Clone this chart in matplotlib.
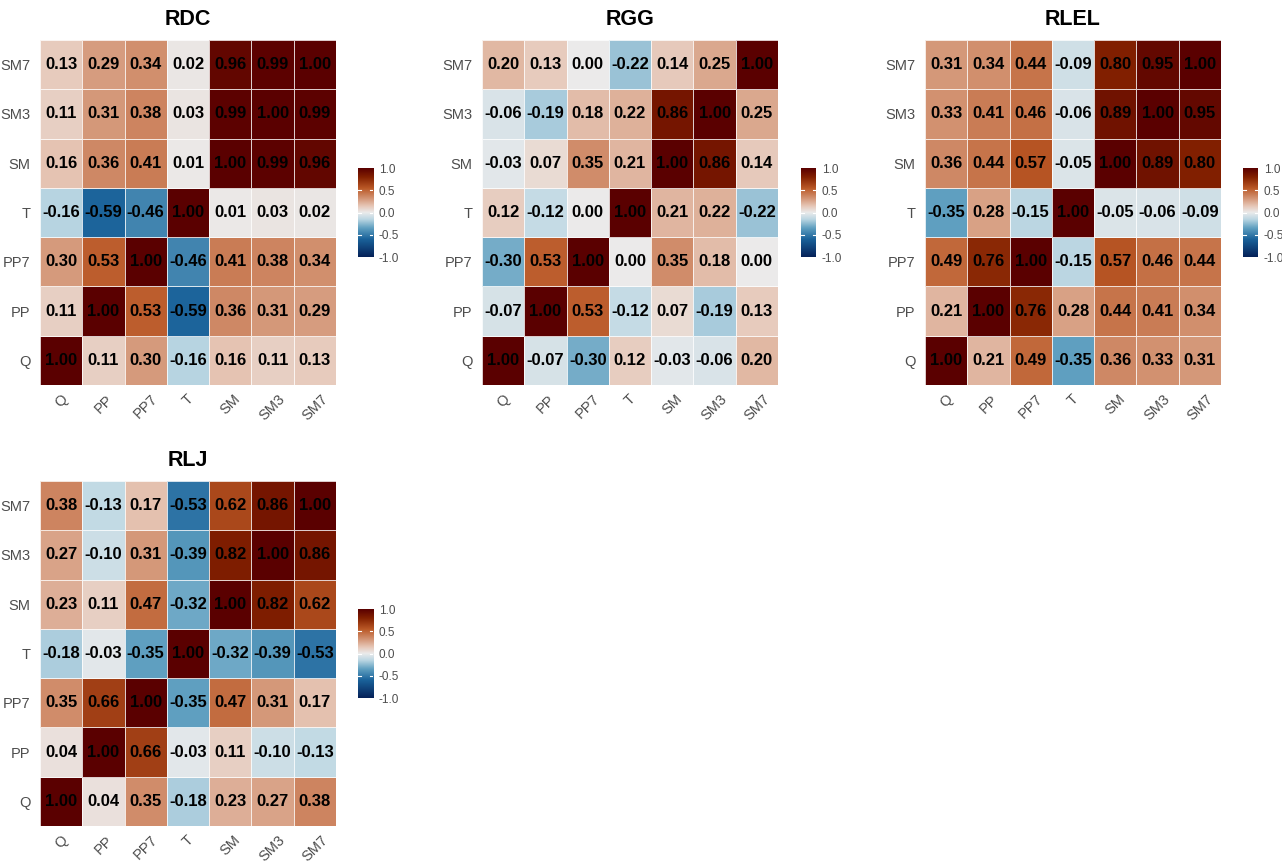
import numpy as np
import matplotlib
matplotlib.use("Agg")
import matplotlib.pyplot as plt
from matplotlib.colors import LinearSegmentedColormap

plt.rcParams["font.family"] = ["Liberation Sans", "DejaVu Sans"]

variables = ["Q", "PP", "PP7", "T", "SM", "SM3", "SM7"]

# Correlation matrices, rows/cols in the order of `variables`
rdc = [
    [1.00, 0.11, 0.30, -0.16, 0.16, 0.11, 0.13],
    [0.11, 1.00, 0.53, -0.59, 0.36, 0.31, 0.29],
    [0.30, 0.53, 1.00, -0.46, 0.41, 0.38, 0.34],
    [-0.16, -0.59, -0.46, 1.00, 0.01, 0.03, 0.02],
    [0.16, 0.36, 0.41, 0.01, 1.00, 0.99, 0.96],
    [0.11, 0.31, 0.38, 0.03, 0.99, 1.00, 0.99],
    [0.13, 0.29, 0.34, 0.02, 0.96, 0.99, 1.00],
]
rgg = [
    [1.00, -0.07, -0.30, 0.12, -0.03, -0.06, 0.20],
    [-0.07, 1.00, 0.53, -0.12, 0.07, -0.19, 0.13],
    [-0.30, 0.53, 1.00, 0.00, 0.35, 0.18, 0.00],
    [0.12, -0.12, 0.00, 1.00, 0.21, 0.22, -0.22],
    [-0.03, 0.07, 0.35, 0.21, 1.00, 0.86, 0.14],
    [-0.06, -0.19, 0.18, 0.22, 0.86, 1.00, 0.25],
    [0.20, 0.13, 0.00, -0.22, 0.14, 0.25, 1.00],
]
rlel = [
    [1.00, 0.21, 0.49, -0.35, 0.36, 0.33, 0.31],
    [0.21, 1.00, 0.76, 0.28, 0.44, 0.41, 0.34],
    [0.49, 0.76, 1.00, -0.15, 0.57, 0.46, 0.44],
    [-0.35, 0.28, -0.15, 1.00, -0.05, -0.06, -0.09],
    [0.36, 0.44, 0.57, -0.05, 1.00, 0.89, 0.80],
    [0.33, 0.41, 0.46, -0.06, 0.89, 1.00, 0.95],
    [0.31, 0.34, 0.44, -0.09, 0.80, 0.95, 1.00],
]
rlj = [
    [1.00, 0.04, 0.35, -0.18, 0.23, 0.27, 0.38],
    [0.04, 1.00, 0.66, -0.03, 0.11, -0.10, -0.13],
    [0.35, 0.66, 1.00, -0.35, 0.47, 0.31, 0.17],
    [-0.18, -0.03, -0.35, 1.00, -0.32, -0.39, -0.53],
    [0.23, 0.11, 0.47, -0.32, 1.00, 0.82, 0.62],
    [0.27, -0.10, 0.31, -0.39, 0.82, 1.00, 0.86],
    [0.38, -0.13, 0.17, -0.53, 0.62, 0.86, 1.00],
]

panel_titles = ["RDC", "RGG", "RLEL", "RLJ"]
panel_data = [rdc, rgg, rlel, rlj]

# Diverging blue - light grey - dark brown palette
cmap = LinearSegmentedColormap.from_list(
    "corr",
    [
        (0.00, "#052158"),
        (0.20, "#1a629a"),
        (0.325, "#5f9fc0"),
        (0.425, "#bcd7e3"),
        (0.50, "#ebebeb"),
        (0.575, "#e6c6b6"),
        (0.675, "#d08c6a"),
        (0.775, "#ba5826"),
        (0.90, "#822000"),
        (1.00, "#5a0000"),
    ],
)

W, H = 1282, 863
fig = plt.figure(figsize=(W / 100, H / 100), dpi=100)


def px_axes(x0, y0, w, h):
    return fig.add_axes([x0 / W, 1 - (y0 + h) / H, w / W, h / H])


# (heatmap left, top, colorbar left) in pixels
layout = [
    (40, 40, 358),
    (482, 40, 801),
    (925, 40, 1243),
    (40, 481, 358),
]
hm_w, hm_h = 296, 345
label_grey = "#4d4d4d"

for title, data, (x0, y0, cbx) in zip(panel_titles, panel_data, layout):
    m = np.array(data)
    n = len(variables)
    ax = px_axes(x0, y0, hm_w, hm_h)
    ax.pcolormesh(np.arange(n + 1), np.arange(n + 1), m, cmap=cmap,
                  vmin=-1, vmax=1, edgecolor=(1, 1, 1, 0.8), linewidth=0.4)
    for i in range(n):
        for j in range(n):
            ax.text(j + 0.5, i + 0.5, f"{m[i, j]:.2f}", ha="center",
                    va="center", fontsize=12, fontweight="bold",
                    color="black")
    ax.set_xlim(0, n)
    ax.set_ylim(0, n)
    ax.set_xticks(np.arange(n) + 0.5)
    ax.set_yticks(np.arange(n) + 0.5)
    ax.set_xticklabels(variables, rotation=45, ha="center", va="top",
                       fontsize=10.5, color=label_grey)
    ax.set_yticklabels(variables, fontsize=10.5, color=label_grey)
    ax.tick_params(axis="x", length=0, pad=5)
    ax.tick_params(axis="y", length=0, pad=7)
    for s in ax.spines.values():
        s.set_visible(False)
    ax.set_title(title, fontsize=15.5, fontweight="bold", pad=11)

    # Colour bar
    cax = px_axes(cbx, y0 + 128, 15, 89)
    grad = np.linspace(-1, 1, 256).reshape(-1, 1)
    cax.imshow(grad, aspect="auto", cmap=cmap, origin="lower",
               extent=[0, 1, -1, 1], vmin=-1, vmax=1)
    for t in (-0.5, 0.0, 0.5):
        cax.plot([0, 0.2], [t, t], color="white", lw=0.8)
        cax.plot([0.8, 1], [t, t], color="white", lw=0.8)
    cax.set_xlim(0, 1)
    cax.set_ylim(-1, 1)
    cax.set_xticks([])
    cax.yaxis.tick_right()
    cax.set_yticks([-1, -0.5, 0, 0.5, 1])
    cax.set_yticklabels(["-1.0", "-0.5", "0.0", "0.5", "1.0"], fontsize=8.5,
                        color=label_grey)
    cax.tick_params(length=0, pad=4)
    for s in cax.spines.values():
        s.set_visible(False)

fig.savefig("out.png", dpi=100, facecolor="white")
